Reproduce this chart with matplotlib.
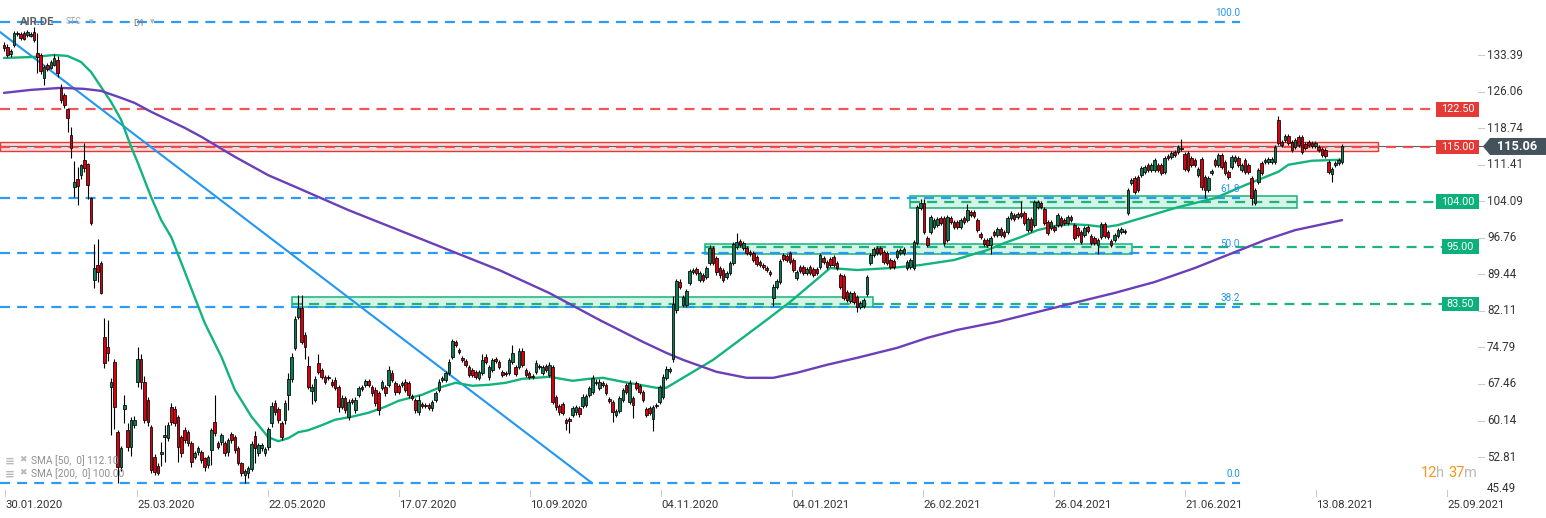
import matplotlib
matplotlib.use('Agg')
import matplotlib.pyplot as plt
from matplotlib.patches import Rectangle, Polygon
import numpy as np

# ---------------- data ----------------
opens = [
    135.4, 135.0, 133.6, 135.4, 137.8, 137.6, 137.8, 137.4, 137.2, 138.0,
    133.8, 133.4, 128.8, 131.4, 130.8, 131.4, 132.4,
    126.8, 125.4, 122.6, 117.4, 107.0, 108.5, 109.3, 112.3, 111.5, 104.7,
    88.3, 91.3, 91.7, 76.9, 74.9, 66.9, 71.9, 57.8, 50.8, 62.4,
    58.2, 54.8, 59.2, 67.9, 72.5, 67.9, 64.2, 58.8, 52.8, 51.0,
    53.4, 56.9, 56.6, 62.8, 62.4, 60.9, 56.8, 58.2, 57.8, 55.6,
    52.8, 53.8, 53.8, 52.6, 51.2, 54.2, 59.8, 55.6, 55.8, 55.6,
    53.8, 57.4, 56.8, 54.6, 51.6, 49.2, 49.6, 50.4, 57.0, 53.6,
    54.6, 53.6, 54.8, 59.6, 63.7, 62.4, 59.6, 60.2, 65.3, 68.5,
    74.7, 80.9, 82.7, 77.3, 71.1, 66.0, 64.3, 71.7, 70.2, 68.9,
    68.9, 67.9, 68.3, 66.9, 62.9, 64.7, 60.9, 64.2, 62.2, 65.3,
    66.9, 67.3, 68.0, 66.9, 66.3, 65.6, 66.7, 66.9, 67.3, 69.7,
    67.7, 67.0, 67.3, 67.9, 67.7, 65.0, 64.2, 61.8, 63.5, 63.3,
    63.2, 62.6, 64.3, 66.3, 68.2, 68.3, 69.7, 72.9, 75.8, 74.2,
    72.6, 72.0, 70.8, 70.2, 69.8, 68.7, 69.7, 72.9, 68.9, 70.2,
    72.4, 71.9, 69.8, 69.6, 69.7, 71.9, 70.9, 70.9, 74.1, 70.2,
    69.6, 68.8, 69.9, 71.1, 69.7, 71.0, 69.3, 70.9, 64.9, 63.1,
    63.4, 60.2, 60.4, 61.2, 61.8, 62.6, 63.1, 63.3, 65.3, 65.9,
    67.9, 66.7, 67.6, 67.3, 64.4, 63.8, 61.2, 62.0, 64.2, 67.3,
    63.9, 64.6, 67.6, 67.0, 65.9, 62.4, 62.6, 60.4, 63.0, 63.8,
    64.9, 68.7, 70.0, 72.5, 82.3, 87.9, 83.3, 83.3, 87.7, 90.0,
    90.5, 88.3, 89.3, 88.9, 91.7, 94.7, 92.7, 90.7, 90.3, 88.9,
    89.7, 91.7, 94.9, 96.1, 94.7, 94.7, 94.0, 93.7, 92.9, 91.9,
    91.4, 90.8, 90.0, 84.7, 86.9, 87.9, 93.3, 93.1, 93.7, 92.3,
    88.7, 90.9, 90.9, 89.7, 90.9, 90.5, 90.5, 90.9, 92.7, 91.9,
    92.5, 92.9, 91.7, 89.3, 89.1, 85.9, 84.1, 85.7, 84.9, 82.9,
    83.1, 85.5, 91.7, 93.3, 94.7, 94.7, 93.9, 93.7, 92.3, 92.1,
    92.9, 93.7, 93.7, 90.7, 90.9, 90.7, 95.7, 102.7, 103.7, 96.7,
    97.9, 98.9, 99.4, 100.7, 100.7, 96.3, 100.7, 99.9, 99.9, 98.9,
    100.7, 100.3, 101.9, 101.9, 100.3, 97.5, 96.3, 96.3, 95.3, 97.9,
    97.3, 98.5, 97.9, 97.9, 100.7, 101.3, 100.9, 101.7, 101.7, 98.3,
    100.5, 99.3, 102.9, 103.7, 102.5, 99.9, 98.7, 98.9, 99.3, 100.7,
    100.3, 99.7, 100.9, 99.3, 98.7, 97.9, 97.3, 98.9, 97.1, 96.7,
    95.3, 96.9, 99.5, 97.9, 96.1, 96.3, 97.1, 97.9, 98.1, 101.7,
    107.7, 108.7, 108.9, 109.3, 109.9, 111.3, 110.3, 110.3, 111.3, 111.3,
    109.9, 113.1, 112.9, 113.9, 113.9, 114.8, 113.5, 113.7, 112.7, 112.3,
    109.3, 112.5, 108.9, 106.3, 109.8, 112.3, 111.3, 113.4, 111.9, 110.0,
    110.9, 112.1, 112.7, 110.3, 112.3, 111.3, 108.7, 103.7, 107.9, 111.7,
    111.9, 112.0, 111.9, 111.9, 120.4, 115.9, 116.4, 117.2, 115.9, 115.0,
    117.0, 117.0, 115.6, 115.9, 115.7, 115.1, 114.9, 114.5, 114.3, 112.0,
    109.5, 111.4, 111.8, 112.0,
]
closes = [
    134.8, 133.4, 134.2, 137.8, 137.6, 136.8, 136.6, 138.0, 137.6, 136.4,
    133.0, 130.2, 131.0, 130.6, 132.0, 132.8, 129.8,
    124.4, 123.4, 120.8, 114.8, 108.0, 107.2, 111.3, 110.7, 107.3, 99.7,
    90.7, 89.9, 85.7, 71.7, 73.7, 67.9, 62.9, 50.8, 54.6, 63.2,
    54.8, 60.2, 60.2, 72.5, 67.9, 60.3, 59.8, 50.2, 49.8, 49.6,
    53.8, 57.3, 59.2, 59.8, 59.6, 54.8, 53.6, 56.2, 55.6, 51.8,
    53.6, 54.6, 52.2, 50.8, 52.8, 58.2, 57.6, 54.8, 57.2, 53.6,
    56.2, 56.2, 54.2, 51.6, 49.6, 50.0, 50.6, 55.4, 54.6, 55.2,
    55.2, 54.4, 58.4, 63.0, 61.8, 60.2, 56.8, 63.7, 68.5, 72.9,
    80.5, 82.7, 75.9, 74.9, 66.9, 66.9, 68.5, 69.9, 68.9, 67.9,
    68.6, 67.2, 66.7, 62.9, 64.7, 62.2, 63.9, 63.8, 64.3, 66.7,
    66.5, 68.0, 67.3, 65.6, 63.7, 62.2, 67.9, 65.6, 70.2, 68.3,
    65.8, 65.8, 67.7, 66.3, 65.3, 64.6, 62.2, 64.3, 63.1, 63.0,
    62.6, 63.8, 65.6, 67.9, 68.7, 69.7, 71.9, 76.1, 75.2, 73.8,
    72.2, 71.3, 69.3, 69.3, 68.9, 69.8, 72.3, 71.9, 70.9, 72.3,
    72.0, 70.9, 69.3, 69.4, 72.3, 73.7, 69.5, 74.1, 71.3, 69.3,
    68.9, 69.0, 71.7, 70.9, 70.8, 70.3, 71.3, 63.9, 62.9, 61.8,
    61.7, 59.6, 60.0, 62.6, 62.8, 61.4, 64.9, 65.1, 66.7, 68.7,
    67.6, 67.9, 67.2, 65.7, 64.0, 61.8, 62.0, 64.6, 66.2, 65.9,
    67.7, 63.3, 66.7, 65.9, 64.2, 61.2, 61.7, 62.9, 63.3, 66.8,
    68.9, 70.5, 70.4, 83.5, 88.1, 86.9, 84.9, 86.1, 90.1, 90.3,
    89.7, 89.7, 88.3, 90.7, 94.7, 91.7, 89.9, 89.3, 88.3, 89.7,
    91.7, 95.5, 95.9, 95.4, 95.7, 93.7, 93.6, 92.3, 91.5, 91.3,
    91.0, 90.4, 89.6, 86.9, 88.1, 92.1, 92.5, 92.3, 91.9, 90.3,
    89.9, 90.1, 89.7, 90.5, 89.7, 89.3, 89.7, 93.3, 91.9, 90.9,
    91.3, 91.3, 90.7, 86.9, 84.7, 84.3, 85.7, 83.9, 82.9, 83.7,
    84.3, 88.9, 93.3, 94.5, 93.7, 93.7, 91.9, 91.7, 90.9, 90.9,
    94.1, 94.3, 94.5, 91.9, 92.3, 95.9, 102.9, 103.7, 97.9, 95.3,
    100.9, 100.3, 100.6, 99.7, 95.7, 100.9, 99.9, 98.9, 98.9, 100.3,
    99.9, 102.3, 101.3, 101.1, 98.3, 96.9, 95.5, 95.3, 96.7, 97.3,
    98.5, 97.3, 97.1, 100.7, 101.7, 100.5, 101.5, 101.1, 99.7, 100.5,
    98.3, 103.9, 103.9, 102.9, 99.7, 97.7, 99.9, 98.3, 101.3, 99.3,
    99.7, 100.9, 100.3, 96.7, 97.3, 95.9, 98.7, 98.1, 95.7, 95.7,
    96.3, 99.5, 97.1, 96.9, 95.3, 97.3, 98.3, 98.5, 97.9, 106.3,
    108.3, 105.9, 106.3, 110.7, 110.9, 110.3, 111.3, 112.3, 110.3, 109.7,
    112.7, 112.7, 113.7, 113.3, 114.9, 114.5, 110.5, 110.3, 111.3, 111.3,
    110.5, 106.9, 106.3, 108.7, 110.2, 111.3, 113.4, 111.0, 109.7, 109.0,
    112.9, 112.9, 111.3, 111.3, 109.9, 109.9, 104.7, 106.3, 110.3, 109.7,
    112.3, 112.5, 112.6, 114.9, 115.8, 115.4, 117.2, 115.8, 114.4, 116.4,
    115.4, 114.0, 114.8, 115.4, 115.1, 115.7, 114.4, 113.3, 113.2, 110.0,
    110.5, 111.7, 112.3, 115.06,
]
wick_up = [
    0.6, 0.5, 0.4, 0.4, 0.4, 0.4, 0.3, 0.5, 0.3, 1.0,
    4.0, 0.4, 0.4, 0.4, 0.4, 0.8, 0.8,
    0.8, 0.4, 0.2, 1.5, 4.2, 2.5, 0.3, 3.5, 0.3, 0.3,
    4.8, 5.2, 0.5, 3.8, 5.4, 0.7, 0.6, 0.4, 0.4, 2.1,
    1.4, 0.6, 0.8, 2.4, 1.0, 1.1, 0.6, 0.4, 0.6, 0.6,
    2.0, 1.9, 0.6, 0.8, 0.6, 0.3, 0.5, 0.6, 0.5, 0.4,
    0.5, 0.4, 0.5, 0.3, 0.4, 0.4, 5.5, 0.4, 0.5, 0.5,
    0.4, 0.5, 0.4, 0.4, 0.3, 0.5, 0.4, 0.6, 1.0, 0.5,
    0.4, 0.4, 0.5, 0.8, 0.6, 0.5, 0.4, 0.6, 1.2, 0.8,
    0.5, 2.5, 2.5, 0.6, 1.9, 0.6, 0.6, 1.8, 0.5, 0.4,
    0.3, 0.5, 0.6, 0.4, 0.5, 0.4, 0.5, 0.4, 0.5, 0.4,
    0.4, 0.4, 0.4, 0.4, 0.6, 0.5, 0.4, 0.4, 0.8, 0.5,
    0.4, 0.4, 0.4, 0.6, 0.4, 0.4, 0.5, 1.0, 0.4, 0.3,
    0.4, 0.5, 0.4, 0.5, 0.4, 0.4, 0.6, 0.4, 0.5, 0.4,
    0.4, 0.4, 0.4, 0.4, 0.4, 0.4, 1.2, 0.5, 0.4, 0.4,
    0.4, 0.4, 0.4, 0.4, 0.4, 1.5, 0.4, 0.5, 0.5, 0.4,
    0.4, 0.4, 0.5, 0.4, 0.4, 0.4, 0.5, 0.4, 0.4, 0.4,
    0.4, 0.4, 0.4, 0.4, 0.4, 0.4, 0.5, 0.4, 0.4, 0.5,
    0.5, 0.5, 0.4, 0.4, 0.4, 0.4, 0.4, 0.4, 0.4, 0.4,
    0.5, 0.4, 0.4, 0.4, 0.4, 0.4, 0.4, 0.4, 0.4, 0.4,
    0.5, 0.5, 0.5, 1.5, 0.5, 0.6, 0.4, 0.4, 0.4, 0.5,
    0.4, 0.4, 0.4, 0.4, 0.6, 0.4, 0.4, 0.4, 0.4, 0.4,
    0.4, 0.5, 1.9, 0.5, 0.4, 0.4, 0.4, 0.4, 0.4, 0.4,
    0.4, 0.4, 0.4, 0.5, 0.4, 0.4, 0.5, 0.4, 0.4, 0.4,
    0.4, 0.4, 0.4, 0.4, 0.4, 0.4, 0.4, 0.4, 0.4, 0.4,
    0.4, 0.4, 0.4, 0.4, 0.4, 0.4, 0.4, 0.4, 0.4, 0.4,
    0.4, 0.4, 0.4, 0.5, 0.4, 0.4, 0.4, 0.4, 0.4, 0.4,
    0.4, 0.4, 0.4, 0.4, 0.4, 0.4, 0.4, 0.9, 0.9, 0.4,
    0.4, 0.4, 0.4, 0.4, 0.4, 0.4, 0.4, 0.4, 0.4, 0.4,
    0.4, 1.3, 0.4, 0.4, 0.4, 0.4, 0.4, 0.4, 0.4, 0.4,
    0.4, 0.4, 0.4, 0.4, 0.4, 0.4, 0.4, 2.5, 0.4, 0.4,
    0.4, 0.5, 0.4, 0.4, 0.4, 0.4, 0.4, 0.4, 0.4, 0.4,
    0.4, 0.4, 0.4, 0.4, 0.4, 0.4, 0.4, 0.4, 0.4, 0.4,
    0.4, 0.4, 0.4, 0.4, 0.4, 0.4, 0.4, 0.4, 0.4, 0.4,
    0.4, 0.4, 0.4, 0.4, 0.4, 0.4, 0.4, 0.4, 0.4, 0.4,
    0.4, 0.4, 0.4, 0.4, 0.4, 1.8, 0.4, 0.4, 0.4, 0.4,
    0.4, 0.4, 0.4, 0.4, 0.4, 0.4, 0.4, 0.4, 0.4, 0.4,
    0.4, 0.4, 0.4, 0.4, 0.4, 0.4, 0.4, 0.4, 0.4, 0.4,
    0.4, 0.4, 0.4, 0.4, 0.8, 0.4, 0.4, 0.4, 0.4, 0.4,
    0.4, 0.4, 0.4, 0.4, 0.4, 0.4, 0.4, 0.4, 0.4, 0.4,
    0.4, 0.4, 0.4, 0.4,
]
wick_dn = [
    0.6, 0.4, 0.6, 0.4, 0.4, 0.4, 0.3, 0.4, 0.3, 0.4,
    3.2, 0.6, 1.5, 0.4, 0.3, 0.3, 0.8,
    0.6, 0.6, 2.8, 2.0, 2.0, 3.9, 0.7, 0.7, 2.7, 0.3,
    1.7, 2.0, 0.3, 1.1, 1.7, 9.7, 4.5, 3.2, 0.8, 2.8,
    0.8, 1.8, 0.6, 1.1, 1.4, 0.7, 0.8, 0.6, 0.6, 0.4,
    2.4, 5.1, 0.6, 0.6, 0.6, 3.0, 0.8, 0.5, 0.5, 1.0,
    0.4, 0.5, 0.6, 0.8, 0.5, 3.0, 0.6, 0.4, 0.6, 0.6,
    0.8, 0.5, 0.6, 0.4, 0.5, 1.6, 1.0, 0.4, 3.0, 0.6,
    0.5, 0.6, 0.5, 0.8, 0.5, 0.5, 0.6, 0.8, 3.0, 0.6,
    0.4, 0.4, 0.4, 2.4, 0.5, 2.5, 0.5, 0.4, 0.4, 0.4,
    0.3, 0.4, 0.4, 1.0, 0.5, 0.5, 0.6, 0.3, 0.5, 0.4,
    0.4, 0.4, 0.4, 0.5, 0.6, 1.0, 0.5, 0.5, 0.4, 0.5,
    0.5, 0.4, 0.4, 0.5, 0.6, 0.4, 0.5, 0.6, 0.4, 0.3,
    0.4, 0.6, 0.4, 0.4, 0.4, 0.5, 0.4, 0.5, 0.4, 0.4,
    0.4, 0.4, 0.4, 0.4, 0.5, 0.4, 0.5, 0.4, 0.6, 0.4,
    0.4, 0.4, 0.5, 0.4, 0.4, 0.4, 0.5, 0.4, 0.4, 0.4,
    0.4, 0.4, 0.4, 0.4, 0.4, 0.4, 0.4, 0.5, 0.6, 0.6,
    0.5, 1.4, 2.4, 0.4, 0.5, 0.5, 0.4, 0.4, 0.4, 0.4,
    0.4, 0.4, 0.4, 0.4, 0.4, 2.0, 0.4, 0.4, 0.4, 0.4,
    0.4, 2.6, 0.4, 0.4, 0.4, 0.3, 0.4, 2.4, 0.4, 0.4,
    0.4, 0.4, 0.4, 0.6, 0.6, 0.4, 0.5, 0.4, 0.4, 0.4,
    0.4, 0.4, 0.4, 0.4, 0.4, 0.4, 0.6, 0.6, 0.4, 0.4,
    0.4, 0.4, 0.4, 0.4, 0.4, 0.4, 0.4, 0.4, 0.4, 0.4,
    0.4, 0.4, 0.4, 1.7, 0.4, 0.4, 0.4, 0.4, 0.4, 0.4,
    0.4, 0.4, 0.4, 0.4, 0.4, 0.4, 0.4, 0.4, 0.4, 0.4,
    0.4, 0.4, 0.4, 0.4, 0.4, 0.4, 0.4, 0.4, 1.1, 0.4,
    0.4, 0.4, 0.4, 0.4, 0.4, 0.4, 0.4, 0.4, 0.4, 0.4,
    0.4, 0.4, 0.4, 0.4, 0.4, 0.4, 0.4, 0.4, 0.4, 0.4,
    0.4, 0.4, 0.4, 0.4, 0.5, 0.4, 0.4, 0.4, 0.4, 0.4,
    0.4, 0.4, 0.4, 0.4, 0.4, 0.4, 0.4, 0.4, 1.8, 0.4,
    0.4, 0.4, 0.4, 0.4, 0.4, 0.4, 0.4, 0.4, 0.4, 0.4,
    0.4, 0.4, 0.4, 0.4, 0.4, 0.4, 0.4, 0.4, 0.4, 0.4,
    0.4, 0.4, 0.4, 0.4, 0.4, 0.4, 0.4, 0.4, 0.4, 0.4,
    1.7, 0.4, 0.4, 0.4, 0.4, 0.4, 0.4, 0.4, 0.4, 0.4,
    0.4, 0.4, 0.4, 0.4, 0.4, 0.4, 0.4, 0.4, 0.4, 0.4,
    0.4, 0.4, 0.4, 0.4, 0.4, 0.4, 0.4, 0.4, 0.4, 0.4,
    0.4, 0.6, 1.6, 0.4, 0.4, 0.4, 0.4, 0.4, 0.4, 0.4,
    0.4, 0.4, 0.4, 0.4, 0.4, 0.4, 1.4, 0.4, 0.4, 0.4,
    0.4, 0.4, 0.4, 0.4, 0.4, 0.4, 0.4, 0.4, 0.4, 0.4,
    0.4, 0.4, 0.4, 0.4, 0.4, 0.4, 0.4, 0.4, 0.4, 0.4,
    1.5, 0.4, 0.4, 0.4,
]

# moving averages read at sample candles (index, value)
sma50_idx = [0, 9, 15, 19, 23, 26, 29, 32, 35, 38, 40, 44, 47, 50, 55, 60, 65, 69, 74, 79,
             82, 85, 88, 91, 95, 99, 104, 109, 114, 118, 125, 130, 135, 140, 145, 150, 155, 163,
             170, 175, 179, 185, 190, 195, 198, 201, 212, 220, 228, 235, 241, 247, 255, 265,
             274, 284, 294, 299, 304, 309, 314, 319, 324, 329, 333, 341, 351, 362, 371, 381,
             384, 391, 400]
sma50_val = [132.8, 133.0, 133.4, 133.2, 132.0, 130.0, 127.0, 124.0, 120.4, 115.0, 111.8, 104.9,
             100.3, 96.9, 88.3, 79.7, 72.9, 66.3, 60.9, 56.8, 56.0, 56.6, 57.8, 58.2, 59.2, 60.3,
             60.9, 61.7, 62.9, 64.1, 65.3, 66.7, 67.7, 67.1, 67.3, 67.7, 68.5, 68.9, 68.1, 68.5,
             68.7, 67.9, 67.3, 66.7, 66.7, 67.9, 72.3, 76.3, 80.3, 83.9, 87.3, 90.7, 90.3, 90.7,
             91.3, 92.3, 94.3, 95.7, 96.9, 98.3, 99.1, 99.5, 99.3, 98.9, 99.3, 100.9, 102.9,
             104.7, 107.3, 110.0, 111.4, 112.2, 112.4]
sma200_idx = [0, 8, 17, 24, 29, 35, 39, 44, 54, 59, 69, 79, 88, 103, 118, 133, 148, 163, 178,
              191, 198, 203, 213, 222, 230, 237, 246, 255, 267, 276, 285, 297, 309, 321, 332,
              344, 356, 368, 377, 386, 400]
sma200_val = [125.8, 126.4, 126.8, 126.6, 126.2, 124.8, 123.8, 122.0, 118.8, 117.0, 113.0,
              109.3, 106.7, 102.3, 98.3, 94.3, 90.3, 85.7, 80.3, 75.9, 73.7, 72.3, 69.9, 68.7,
              68.7, 69.7, 71.3, 72.7, 74.7, 76.7, 78.3, 79.9, 81.9, 83.9, 85.7, 87.9, 90.7,
              93.9, 96.3, 98.3, 100.3]

date_labels = ['30.01.2020', '25.03.2020', '22.05.2020', '17.07.2020', '10.09.2020',
               '04.11.2020', '04.01.2021', '26.02.2021', '26.04.2021', '21.06.2021',
               '13.08.2021', '25.09.2021']
price_ticks = [133.39, 126.06, 118.74, 111.41, 104.09, 96.76, 89.44, 82.11, 74.79, 67.46,
               60.14, 52.81, 45.49]

fib_levels = [140.0, 104.7, 93.8, 82.9, 47.6]
fib_labels = ['100.0', '61.8', '50.0', '38.2', '0.0']
red_levels = [122.5, 115.0]
green_levels = [104.0, 95.0, 83.5]
red_zone = (114.2, 116.0)
green_zones = [(102.7, 105.1), (93.5, 95.5), (82.9, 84.9)]
trend_idx = [-1.2, 175.8]
trend_val = [138.0, 47.6]
last_price = 115.06
sma50_last = 112.10
sma200_last = 100.00

# ---------------- layout helpers (pixel -> data) ----------------
W, H = 1546, 518
N = len(opens)
PX0, PXL = 4.0, 1342.0          # x pixel of first and last candle
PXS = (PXL - PX0) / (N - 1)
PY0, PYV, PREF = 55.0, 4.99, 133.39


def X(px):
    return (px - PX0) / PXS


def Y(py):
    return PREF - (py - PY0) / PYV


fig = plt.figure(figsize=(W / 100, H / 100), dpi=100)
ax = fig.add_axes([0, 0, 1, 1])
ax.set_xlim(X(0), X(W))
ax.set_ylim(Y(H), Y(0))
ax.axis('off')
fig.patch.set_facecolor('white')

FONT = 'Roboto'
BLUE = '#2196f3'
RED = '#ef4444'
GREEN = '#12b07a'

dash = (4.5, 3.2)

# current price thin line
ax.plot([X(0), X(1483)], [last_price, last_price], color='#56646e', lw=0.8, zorder=2)

# red zone
ax.add_patch(Rectangle((X(0), red_zone[0]), X(1378) - X(0), red_zone[1] - red_zone[0],
                       facecolor='#fbdada', edgecolor='#e53935', lw=1.0, zorder=1))

# green zones
zone_px = [(910, 1297), (705, 1132), (292, 873)]
for (lo, hi), (x0, x1) in zip(green_zones, zone_px):
    ax.add_patch(Rectangle((X(x0), lo), X(x1) - X(x0), hi - lo,
                           facecolor='#d5f3e7', edgecolor='#14b37c', lw=1.1, zorder=1))

# fib lines
for lvl, lab in zip(fib_levels, fib_labels):
    ax.plot([X(0), X(1240)], [lvl, lvl], color=BLUE, lw=1.6, dashes=dash, zorder=3, alpha=0.95)
    ax.text(X(1240), lvl + 4.0 / PYV, lab, color=BLUE, fontsize=7.2, family=FONT,
            ha='right', va='bottom', zorder=8)

# red levels
for lvl in red_levels:
    ax.plot([X(0), X(1436)], [lvl, lvl], color=RED, lw=1.6, dashes=dash, zorder=3, alpha=0.9)

# green levels
green_start = [910, 705, 292]
for lvl, x0 in zip(green_levels, green_start):
    ax.plot([X(x0), X(1442)], [lvl, lvl], color=GREEN, lw=1.6, dashes=dash, zorder=3, alpha=0.95)

# trend line
ax.plot(trend_idx, trend_val, color=BLUE, lw=1.5, zorder=4)

# moving averages
ax.plot(sma50_idx, sma50_val, color='#13b47b', lw=1.7, zorder=4, solid_capstyle='round')
ax.plot(sma200_idx, sma200_val, color='#6a3fb7', lw=1.7, zorder=4, solid_capstyle='round')

# candles
o = np.array(opens)
c = np.array(closes)
idx = np.arange(N)
top = np.maximum(o, c)
bot = np.minimum(o, c)
hi = top + np.array(wick_up)
lo = bot - np.array(wick_dn)
ax.vlines(idx, lo, hi, color='black', lw=0.8, zorder=5)
body = np.maximum(top - bot, 0.2)
cols = np.where(c >= o, '#0d7a52', '#d9000d')
ax.bar(idx, body, bottom=bot, width=0.78, color=cols, edgecolor='black', linewidth=0.55, zorder=6)

# right axis tick labels
for i, t in enumerate(price_ticks):
    yy = t if i < len(price_ticks) - 1 else Y(489)
    if i < len(price_ticks) - 1:
        ax.plot([X(1478), X(1484)], [t, t], color='#c8ccd0', lw=0.8, zorder=2)
    ax.text(X(1487), yy, f'{t:.2f}', color='#333333', fontsize=8.4, family=FONT,
            ha='left', va='center')

# level label boxes
boxes = [(122.5, '122.50', '#e53935', 1436), (115.0, '115.00', '#e53935', 1436),
         (104.0, '104.00', '#0bb07a', 1436), (95.0, '95.00', '#0bb07a', 1442),
         (83.5, '83.50', '#0bb07a', 1442)]
for lvl, txt, col, x0 in boxes:
    hh = 14.5 / PYV
    ax.add_patch(Rectangle((X(x0), lvl - hh / 2), X(1479) - X(x0), hh, facecolor=col,
                           edgecolor='none', zorder=9))
    ax.text((X(x0) + X(1479)) / 2, lvl, txt, color='white', fontsize=7.8, family=FONT,
            ha='center', va='center', zorder=10)

# current price label
hh = 17.0 / PYV
ax.add_patch(Polygon([(X(1483), last_price), (X(1490), last_price + hh / 2),
                      (X(1546), last_price + hh / 2), (X(1546), last_price - hh / 2),
                      (X(1490), last_price - hh / 2)], closed=True,
                     facecolor='#44525c', edgecolor='none', zorder=9))
ax.text(X(1517), last_price, f'{last_price:.2f}', color='white', fontsize=9.2, family=FONT,
        fontweight='bold', ha='center', va='center', zorder=10)

# date axis
date_px = [5, 137, 268, 399, 530, 661, 792, 923, 1054, 1185, 1316, 1447]
for xp, dl in zip(date_px, date_labels):
    ax.plot([X(xp), X(xp)], [Y(490), Y(496)], color='#c8ccd0', lw=0.8)
    ax.text(X(xp), Y(505), dl, color='#333333', fontsize=8.2, family=FONT, ha='left', va='center')

# top-left header
ax.text(X(20), Y(22), 'AIR.DE', color='#5e5e5e', fontsize=8.0, family=FONT,
        fontweight='bold', ha='left', va='center', zorder=10)
ax.text(X(66), Y(21), 'STC', color='#a8a8a8', fontsize=6.2, family=FONT, ha='left', va='center',
        zorder=10)
ax.text(X(89), Y(22), '▾', color='#b0b0b0', fontsize=6.5, family='DejaVu Sans', ha='left',
        va='center', zorder=10)
ax.text(X(133), Y(23), 'D1', color='#7a7a7a', fontsize=6.8, family=FONT, ha='left', va='center',
        zorder=10)
ax.text(X(150), Y(22), '▾', color='#b0b0b0', fontsize=6.5, family='DejaVu Sans', ha='left',
        va='center', zorder=10)

# SMA legend (bottom-left)
for yy, lab in [(461, f'SMA [50,  0] {sma50_last:.2f}'), (474, f'SMA [200,  0] {sma200_last:.2f}')]:
    ax.text(X(5), Y(yy), '≡', color='#b8b8b8', fontsize=8.5, family='DejaVu Sans',
            ha='left', va='center', zorder=10, fontweight='bold')
    ax.text(X(19), Y(yy - 1), '✖', color='#b8b8b8', fontsize=6.5, family='DejaVu Sans',
            ha='left', va='center', zorder=10)
    ax.text(X(31), Y(yy), lab, color='#8f8f8f', fontsize=7.3, family=FONT,
            ha='left', va='center', zorder=10)

# countdown
parts = [('12', '#f7941d'), ('h ', '#b9b9b9'), ('37', '#f7941d'), ('m', '#b9b9b9')]
xpos = 1421
widths = {'12': 15.5, 'h ': 12.0, '37': 15.5, 'm': 12}
for txt, col in parts:
    ax.text(X(xpos), Y(473), txt, color=col, fontsize=10.5, family=FONT, ha='left', va='center')
    xpos += widths[txt]

fig.savefig('out.png', dpi=100, facecolor='white')
